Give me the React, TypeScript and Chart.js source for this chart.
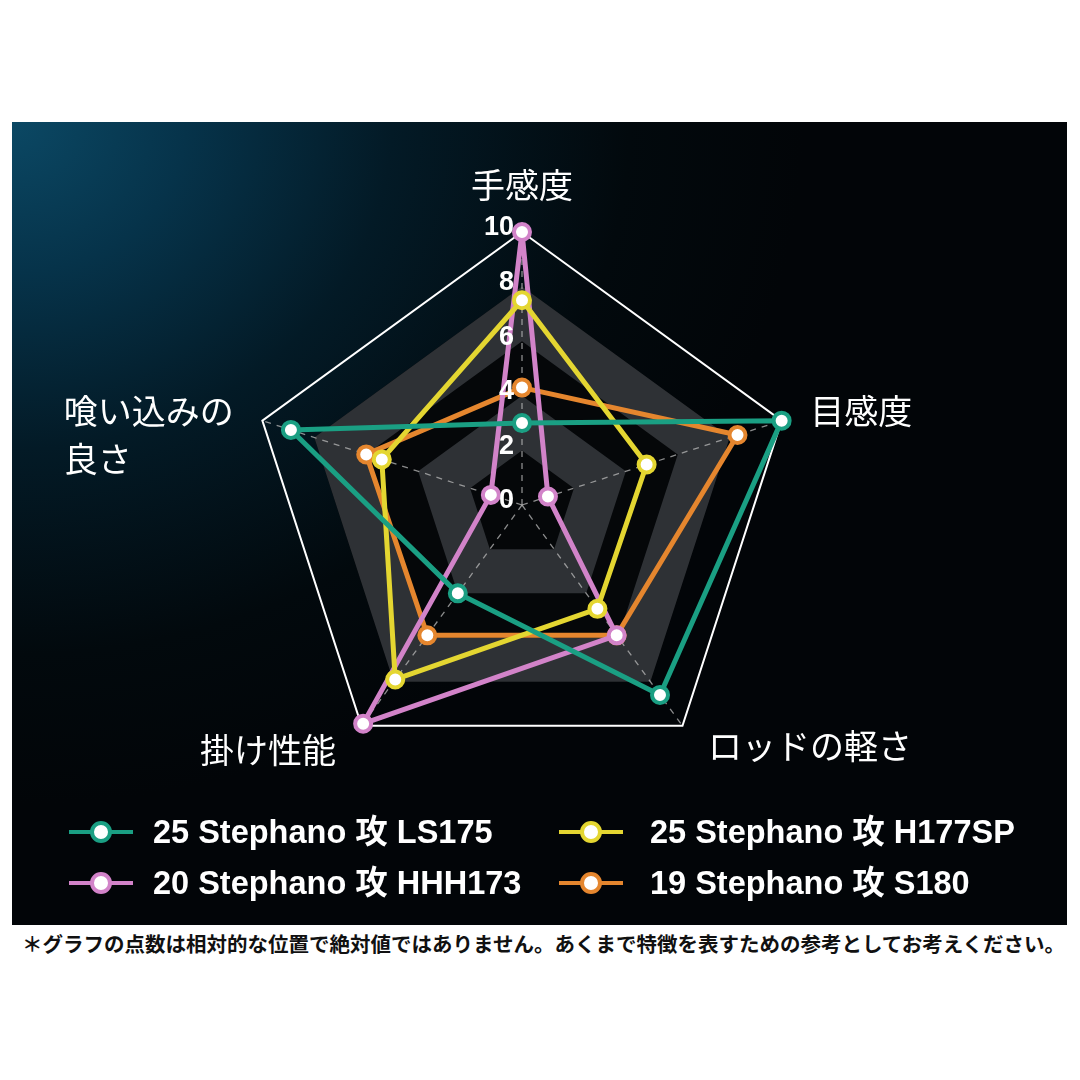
import React, { useEffect, useRef } from 'react';
import { Chart, registerables } from 'chart.js';

Chart.register(...registerables);

// axes, clockwise from the top
const AXES: (string | string[])[] = ['手感度', '目感度', 'ロッドの軽さ', '掛け性能', ['喰い込みの', '良さ']];
const TICK_VALUES = [0, 2, 4, 6, 8, 10];

const SERIES_NAMES = [
    '25 Stephano 攻 LS175',
    '25 Stephano 攻 H177SP',
    '20 Stephano 攻 HHH173',
    '19 Stephano 攻 S180',
];
const LS175 = [3, 10, 8.6, 4, 8.9];
const H177SP = [7.5, 4.8, 4.7, 7.9, 5.4];
const HHH173 = [10, 1, 5.9, 9.9, 1.2];
const S180 = [4.3, 8.3, 5.9, 5.9, 6];
const SERIES_VALUES = [LS175, H177SP, HHH173, S180];
const SERIES_COLORS = ['#1a9f83', '#e4d631', '#d283c9', '#e5862e'];

const NOTE = '＊グラフの点数は相対的な位置で絶対値ではありません。あくまで特徴を表すための参考としてお考えください。';

const LABEL_PAD = 30;
const LABEL_LINE = 48;
const LABEL_FONT = '34px "Noto Sans CJK JP", sans-serif';
const TICK_FONT = 'bold 27px "Liberation Sans", Arial, sans-serif';

const outline = (scale: any, value: number) =>
    AXES.map((_, i) => scale.getPointPosition(i, scale.getDistanceFromCenterForValue(value)));

const tracePolygon = (ctx: CanvasRenderingContext2D, pts: { x: number; y: number }[]) => {
    pts.forEach((p, i) => (i === 0 ? ctx.moveTo(p.x, p.y) : ctx.lineTo(p.x, p.y)));
    ctx.closePath();
};

// alternating bands behind the grid
const bandsPlugin = {
    id: 'bands',
    beforeDraw(chart: any) {
        const scale = chart.scales.r;
        const ctx = chart.ctx;
        ctx.save();
        ctx.beginPath();
        tracePolygon(ctx, outline(scale, TICK_VALUES[TICK_VALUES.length - 2]));
        ctx.fillStyle = '#050709';
        ctx.fill();
        for (let k = 1; k < TICK_VALUES.length - 1; k += 2) {
            ctx.beginPath();
            tracePolygon(ctx, outline(scale, TICK_VALUES[k + 1]));
            tracePolygon(ctx, outline(scale, TICK_VALUES[k]));
            ctx.fillStyle = '#2e3135';
            ctx.fill('evenodd');
        }
        ctx.restore();
    },
};

// tick numbers and axis names
const labelsPlugin = {
    id: 'labels',
    afterDatasetsDraw(chart: any) {
        const scale = chart.scales.r;
        const ctx = chart.ctx;
        ctx.save();
        ctx.fillStyle = '#ffffff';
        ctx.font = TICK_FONT;
        ctx.textAlign = 'right';
        ctx.textBaseline = 'middle';
        TICK_VALUES.forEach((v) => {
            const y = scale.yCenter - scale.getDistanceFromCenterForValue(v);
            ctx.fillText(String(v), scale.xCenter - 8, y - 4);
        });

        ctx.font = LABEL_FONT;
        ctx.textAlign = 'left';
        AXES.forEach((label, i) => {
            const lines = Array.isArray(label) ? label : [label];
            const p = scale.getPointPosition(i, scale.drawingArea + LABEL_PAD);
            const w = Math.max(...lines.map((l) => ctx.measureText(l).width));
            const nudge = p.y > scale.yCenter ? 8 : 0;
            let left: number;
            let firstY: number;
            if (Math.abs(p.x - scale.xCenter) < 1) {
                left = p.x - w / 2;
                firstY = p.y - 17 - (lines.length - 1) * LABEL_LINE;
            } else if (p.x > scale.xCenter) {
                left = p.x + nudge;
                firstY = p.y - nudge / 2;
            } else {
                left = p.x - w - nudge;
                firstY = p.y;
            }
            lines.forEach((l, k) => ctx.fillText(l, left, firstY + k * LABEL_LINE));
        });
        ctx.restore();
    },
};

function LegendItem({ name, color, markerX, textX, y }: any) {
    return (
        <>
            <div style={{ position: 'absolute', left: markerX, top: y - 11, width: 64, height: 22 }}>
                <div style={{ position: 'absolute', left: 0, top: 9, width: 64, height: 4, background: color }} />
                <div style={{
                    position: 'absolute', left: 21, top: 0, width: 22, height: 22, borderRadius: '50%',
                    background: '#fff', border: `4px solid ${color}`, boxSizing: 'border-box',
                }} />
            </div>
            <div style={{
                position: 'absolute', left: textX, top: y - 20, height: 40, lineHeight: '40px',
                color: '#fff', fontSize: 32.5, fontWeight: 700, whiteSpace: 'nowrap',
                fontFamily: '"Liberation Sans", "Noto Sans CJK JP", sans-serif',
            }}>{name}</div>
        </>
    );
}

export default function App() {
    const chartRef = useRef<HTMLCanvasElement>(null);
    const chartInstance = useRef<Chart | null>(null);

    useEffect(() => {
        document.body.style.margin = '0';
        if (!chartRef.current) return;
        if (chartInstance.current) chartInstance.current.destroy();

        chartInstance.current = new Chart(chartRef.current, {
            type: 'radar',
            data: {
                labels: AXES,
                datasets: SERIES_VALUES.map((values, i) => ({
                    label: SERIES_NAMES[i],
                    data: values,
                    borderColor: SERIES_COLORS[i],
                    borderWidth: 5,
                    borderJoinStyle: 'round',
                    fill: false,
                    pointRadius: 8,
                    pointBorderWidth: 4,
                    pointBackgroundColor: '#ffffff',
                    pointBorderColor: SERIES_COLORS[i],
                })),
            },
            options: {
                animation: false,
                responsive: true,
                maintainAspectRatio: false,
                layout: { padding: { left: 237, top: 110, right: 272, bottom: 147 } },
                plugins: {
                    legend: { display: false },
                    tooltip: { enabled: false },
                },
                scales: {
                    r: {
                        min: 0,
                        max: 10,
                        ticks: { stepSize: 2, display: false },
                        grid: {
                            color: (c: any) => (c.tick && c.tick.value === 10 ? '#ffffff' : 'rgba(0,0,0,0)'),
                            lineWidth: 2,
                        },
                        angleLines: {
                            color: 'rgba(185,185,185,0.75)',
                            lineWidth: 1.3,
                            borderDash: [6, 6],
                        },
                        pointLabels: { display: false },
                    },
                },
            } as any,
            plugins: [bandsPlugin, labelsPlugin],
        });

        return () => {
            if (chartInstance.current) {
                chartInstance.current.destroy();
                chartInstance.current = null;
            }
        };
    }, []);

    const columns = [
        { markerX: 69, textX: 153 },
        { markerX: 559, textX: 650 },
    ];
    const rows = [832, 883];

    return (
        <div style={{ position: 'relative', width: 1080, height: 1080, background: '#ffffff', overflow: 'hidden' }}>
            <div style={{
                position: 'absolute', left: 12, top: 122, width: 1055, height: 803,
                background: 'radial-gradient(ellipse 75% 85% at 0% 0%, #0b4864 0%, #06334a 22%, #031a26 48%, #02090d 78%, #020508 100%)',
            }}>
                <div style={{ position: 'absolute', left: 0, top: 0, width: 1055, height: 803 }}>
                    <canvas ref={chartRef}></canvas>
                </div>
            </div>
            {SERIES_NAMES.map((name, i) => (
                <LegendItem
                    key={name}
                    name={name}
                    color={SERIES_COLORS[i]}
                    markerX={columns[i % 2].markerX}
                    textX={columns[i % 2].textX}
                    y={rows[Math.floor(i / 2)]}
                />
            ))}
            <div style={{
                position: 'absolute', left: 22, top: 931, height: 24, lineHeight: '24px', whiteSpace: 'nowrap',
                fontFamily: '"Noto Sans CJK JP", sans-serif', fontWeight: 700, fontSize: 20.5, color: '#111',
            }}>{NOTE}</div>
        </div>
    );
}
